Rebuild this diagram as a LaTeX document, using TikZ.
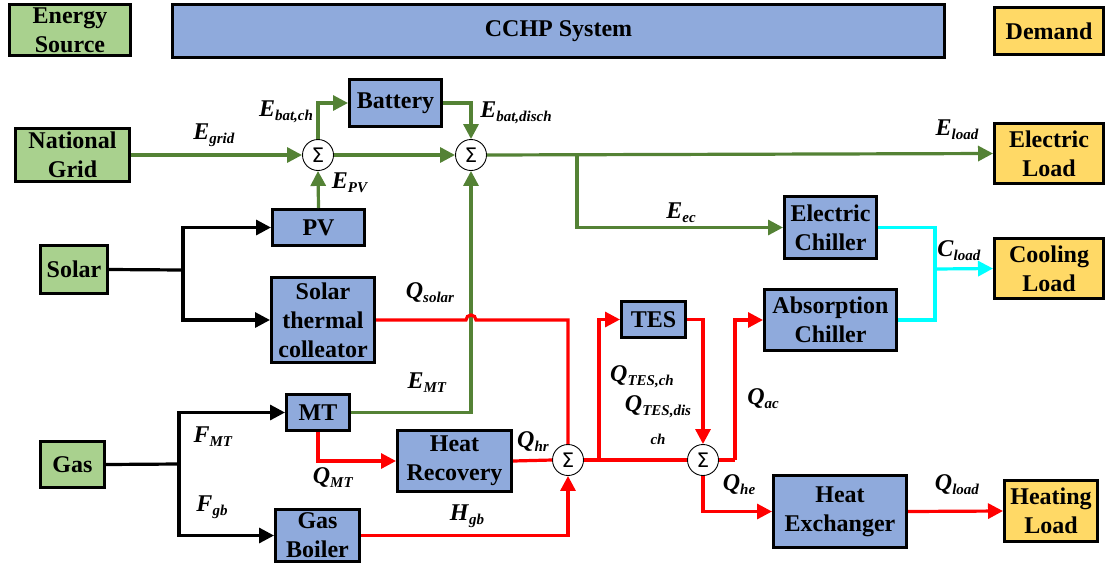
\documentclass[tikz,border=0pt]{standalone}
\usepackage{fontspec}
\setmainfont{Liberation Serif}
\newfontfamily\sigmafont{DejaVu Sans}[Scale=1.0]
\usetikzlibrary{arrows.meta}
\definecolor{srcgreen}{HTML}{A9D18E}
\definecolor{sysblue}{HTML}{8FAADC}
\definecolor{dmdyellow}{HTML}{FFD966}
\definecolor{lgreen}{HTML}{548235}
\definecolor{lred}{HTML}{FF0000}
\definecolor{lcyan}{HTML}{00FFFF}
\newcommand\bxf{\fontsize{24}{29}\selectfont\bfseries}
\newcommand\lab[2]{\textbf{\textit{#1}}\raisebox{-4pt}{\fontsize{15}{15}\selectfont\textbf{\textit{#2}}}}
\begin{document}
\begin{tikzpicture}[x=1pt,y=-1pt,
  box/.style={draw=black, line width=3pt, inner sep=0pt, align=center, font=\bxf},
  src/.style={box, fill=srcgreen},
  sys/.style={box, fill=sysblue},
  dmd/.style={box, fill=dmdyellow},
  sumn/.style={circle, draw=black, line width=0.9pt, fill=white, minimum size=31pt, inner sep=0pt, font=\sigmafont\fontsize{20}{20}\selectfont},
  lbl/.style={inner sep=0pt, font=\fontsize{24}{24}\selectfont},
  conn/.style={line width=3.2pt},
  arr/.style={conn, -{Triangle[length=15pt,width=15pt]}},
  gl/.style={draw=lgreen},
  rl/.style={draw=lred},
  cl/.style={draw=lcyan},
  kl/.style={draw=black}
]
\useasboundingbox (0,0) rectangle (1107,568);

% header
\node[src, minimum width=121pt, minimum height=51pt] (hsrc) at (70,30) {Energy\\Source};
\node[sys, minimum width=772pt, minimum height=53pt] (hsys) at (558.5,31) {CCHP System};
\node[dmd, minimum width=109pt, minimum height=47pt] (hdmd) at (1049,31) {Demand};

% sources
\node[src, minimum width=114pt, minimum height=53pt] (grid) at (72.5,155) {National\\Grid};
\node[src, minimum width=67pt, minimum height=48pt] (solar) at (74,269.5) {Solar};
\node[src, minimum width=64pt, minimum height=46pt] (gas) at (72.5,464.5) {Gas};

% system components
\node[sys, minimum width=92pt, minimum height=47pt] (bat) at (395.5,103) {Battery};
\node[sys, minimum width=92pt, minimum height=36pt] (pv) at (318.5,227.5) {PV};
\node[sys, minimum width=103pt, minimum height=85pt] (stc) at (323,320) {Solar\\thermal\\colleator};
\node[sys, minimum width=63pt, minimum height=36pt] (mt) at (318,412.5) {MT};
\node[sys, minimum width=114pt, minimum height=61pt] (hr) at (454.5,461) {Heat\\Recovery};
\node[sys, minimum width=84pt, minimum height=52pt] (gb) at (317.5,535.5) {Gas\\Boiler};
\node[sys, minimum width=64pt, minimum height=36pt] (tes) at (653.5,319.5) {TES};
\node[sys, minimum width=92pt, minimum height=62pt] (ec) at (830.5,227.5) {Electric\\Chiller};
\node[sys, minimum width=132pt, minimum height=61pt] (ac) at (830.5,320) {Absorption\\Chiller};
\node[sys, minimum width=133pt, minimum height=72pt] (he) at (840,511.5) {Heat\\Exchanger};

% demands
\node[dmd, minimum width=109pt, minimum height=60pt] (eload) at (1049,153.5) {Electric\\Load};
\node[dmd, minimum width=109pt, minimum height=60pt] (cload) at (1049,268.5) {Cooling\\Load};
\node[dmd, minimum width=93pt, minimum height=61pt] (hload) at (1051,511) {Heating\\Load};

% summing junctions
\node[sumn] (s1) at (318,155) {Σ};
\node[sumn] (s2) at (471,155) {Σ};
\node[sumn] (s3) at (568,460) {Σ};
\node[sumn] (s4) at (703,460) {Σ};

% junction points
\coordinate (jsol) at (183,270);
\coordinate (jgas) at (179,464);
\coordinate (jel) at (577,155);
\coordinate (jcool) at (935,269);
\coordinate (jtes) at (599,460);
\coordinate (jac) at (735,460);
\coordinate (hopL) at (466,320);

% black fuel lines
\draw[conn,kl] (solar.east) -- (jsol);
\draw[arr,kl] (jsol) |- (pv.west);
\draw[arr,kl] (jsol) |- (stc.west);
\draw[conn,kl] (gas.east) -- (jgas);
\draw[arr,kl] (jgas) |- (mt.west);
\draw[arr,kl] (jgas) |- (gb.west);

% green electric lines
\draw[arr,gl] (grid.east) -- (s1.west);
\draw[arr,gl] (s1.east) -- (s2.west);
\draw[arr,gl] (s1.north) |- (bat.west);
\draw[arr,gl] (bat.east) -| (s2.north);
\draw[arr,gl] (pv.north) -- (s1.south);
\draw[arr,gl] (mt.east) -| (s2.south);
\draw[arr,gl] (s2.east) -- (eload.west);
\draw[arr,gl] (jel) |- (ec.west);

% red heat lines
\draw[conn,rl] (stc.east) -- (hopL) arc[start angle=180, end angle=0, radius=5pt] -| (s3.north);
\draw[conn,rl] (hr.east) -- (s3.west);
\draw[arr,rl] (gb.east) -| (s3.south);
\draw[arr,rl] (mt.south) |- (hr.west);
\draw[conn,rl] (s3.east) -- (s4.west);
\draw[arr,rl] (jtes) |- (tes.west);
\draw[arr,rl] (tes.east) -| (s4.north);
\draw[conn,rl] (s4.east) -- (jac);
\draw[arr,rl] (jac) |- (ac.west);
\draw[arr,rl] (s4.south) |- (he.west);
\draw[arr,rl] (he.east) -- (hload.west);

% cyan cooling lines
\draw[conn,cl] (ec.east) -| (jcool);
\draw[conn,cl] (ac.east) -| (jcool);
\draw[arr,cl] (jcool) -- (cload.west);

% labels
\node[lbl] (lgrid) at (214,135) {\lab{E}{grid}};
\node[lbl] (lbch) at (286,112) {\lab{E}{bat,ch}};
\node[lbl] (lbdis) at (516,113) {\lab{E}{bat,disch}};
\node[lbl] (lpv) at (350,183) {\lab{E}{PV}};
\node[lbl] (leload) at (957,130) {\lab{E}{load}};
\node[lbl] (lec) at (681,213) {\lab{E}{ec}};
\node[lbl] (lcl) at (959,251) {\lab{C}{load}};
\node[lbl] (lqs) at (430,293) {\lab{Q}{solar}};
\node[lbl] (lemt) at (427,383) {\lab{E}{MT}};
\node[lbl] (lfmt) at (213,437) {\lab{F}{MT}};
\node[lbl] (lfgb) at (212,507) {\lab{F}{gb}};
\node[lbl] (lqmt) at (333,478) {\lab{Q}{MT}};
\node[lbl] (lhgb) at (467,516) {\lab{H}{gb}};
\node[lbl] (lqhr) at (533,442) {\lab{Q}{hr}};
\node[lbl] (lqtc) at (642,377) {\lab{Q}{TES,ch}};
\node[lbl] (lqtd) at (658,407) {\lab{Q}{TES,dis}};
\node[inner sep=0pt, font=\fontsize{15}{15}\selectfont\bfseries\itshape] (lqtd2) at (658,439) {ch};
\node[lbl] (lqac) at (763,399) {\lab{Q}{ac}};
\node[lbl] (lqhe) at (739,485) {\lab{Q}{he}};
\node[lbl] (lqload) at (957,485) {\lab{Q}{load}};
\end{tikzpicture}
\end{document}
